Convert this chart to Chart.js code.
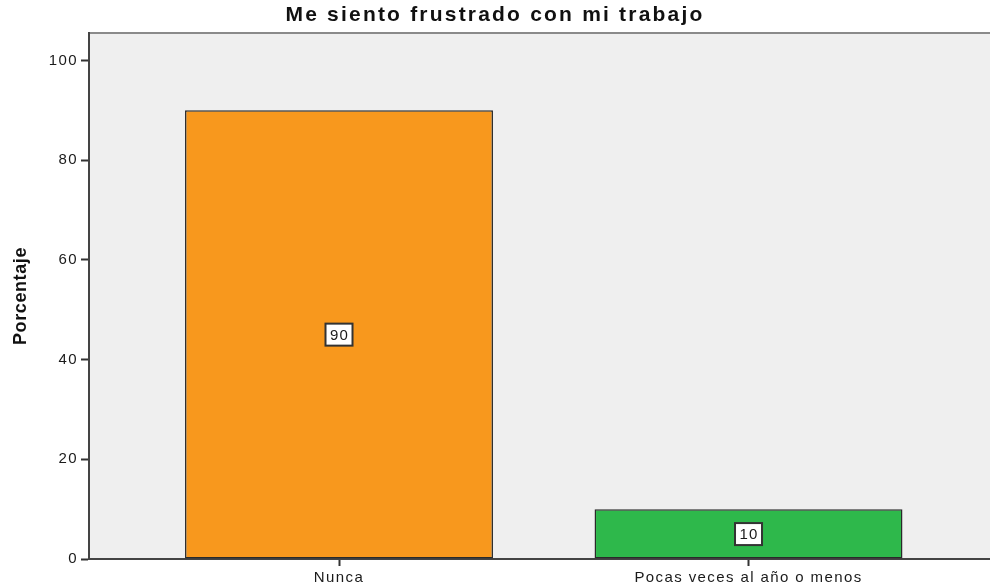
<!DOCTYPE html>
<html><head><meta charset="utf-8">
<script src="https://cdn.jsdelivr.net/npm/chart.js@4"></script>
<style>html,body{margin:0;padding:0;background:#fff}#wrap{width:990px;height:588px}</style>
</head><body><div id="wrap"><canvas id="c" width="990" height="588"></canvas></div>
<script>
const chartTitle = 'Me siento frustrado con mi trabajo';
const yAxisTitle = 'Porcentaje';
const categories = ['Nunca', 'Pocas veces al año o menos'];
const percentages = [90, 10];
const barColors = ['#F8981D', '#2EB84B'];
const yTickValues = [0, 20, 40, 60, 80, 100];

const FONT = "'Liberation Sans', Arial, sans-serif";

const spacingPlugin = {
  id: 'spacing',
  beforeUpdate(c) { c.ctx.letterSpacing = '1.4px'; },
  beforeLayout(c) { c.ctx.letterSpacing = '1.4px'; },
  beforeDraw(c) {
    c.ctx.letterSpacing = '1.4px';
    const t = c.titleBlock;
    if (t && !t._wrapped) {
      const orig = t.draw.bind(t);
      t.draw = function () { const ctx = c.ctx; ctx.save(); ctx.letterSpacing = '2.2px'; orig(); ctx.restore(); };
      t._wrapped = true;
    }
    const ys = c.scales.y;
    if (ys && !ys._wrapped) {
      const origT = ys.drawTitle.bind(ys);
      ys.drawTitle = function (a) { const ctx = c.ctx; ctx.save(); ctx.letterSpacing = '0.6px'; origT(a); ctx.restore(); };
      ys._wrapped = true;
    }
  }
};

const bgPlugin = {
  id: 'bg',
  beforeDraw(c) {
    const a = c.chartArea, ctx = c.ctx;
    ctx.save();
    ctx.fillStyle = '#EFEFEF';
    ctx.fillRect(a.left, a.top, a.right - a.left, a.bottom - a.top);
    ctx.strokeStyle = '#8a8a8a';
    ctx.lineWidth = 2;
    ctx.beginPath();
    ctx.moveTo(a.left, a.top);
    ctx.lineTo(a.right, a.top);
    ctx.stroke();
    ctx.restore();
  }
};

const labelPlugin = {
  id: 'valueBoxes',
  afterDatasetsDraw(c) {
    const ctx = c.ctx, meta = c.getDatasetMeta(0), ys = c.scales.y;
    ctx.save();
    ctx.letterSpacing = '1.2px';
    ctx.font = '15px ' + FONT;
    ctx.textAlign = 'center';
    ctx.textBaseline = 'middle';
    meta.data.forEach((bar, i) => {
      const v = percentages[i];
      const txt = String(v);
      const y = ys.getPixelForValue(v / 2);
      const w = 27;
      const h = 22;
      const x = bar.x;
      ctx.fillStyle = '#ffffff';
      ctx.fillRect(x - w / 2, y - h / 2, w, h);
      ctx.strokeStyle = '#333333';
      ctx.lineWidth = 2;
      ctx.strokeRect(x - w / 2, y - h / 2, w, h);
      ctx.fillStyle = '#1a1a1a';
      ctx.fillText(txt, x + 0.6, y + 1);
    });
    ctx.restore();
  }
};

new Chart(document.getElementById('c'), {
  type: 'bar',
  data: {
    datasets: [{
      data: categories.map((_, i) => ({ x: i, y: percentages[i] })),
      backgroundColor: barColors,
      borderColor: '#2a2a2a',
      borderWidth: 1.5,
      borderSkipped: false,
      categoryPercentage: 0.752,
      barPercentage: 1
    }]
  },
  options: {
    responsive: false,
    animation: false,
    devicePixelRatio: 1,
    layout: { padding: 0 },
    plugins: {
      legend: { display: false },
      tooltip: { enabled: false },
      title: {
        display: true,
        text: chartTitle,
        color: '#111',
        font: { family: FONT, size: 21, weight: 'bold', lineHeight: 1.2 },
        padding: { top: 3, bottom: 4.8 }
      }
    },
    scales: {
      x: {
        type: 'linear',
        min: -0.6105,
        max: 1.5897,
        offset: false,
        afterBuildTicks(s) { s.ticks = categories.map((_, i) => ({ value: i })); },
        afterFit(s) { s.height = 29; },
        ticks: {
          autoSkip: false,
          maxRotation: 0,
          padding: 3,
          color: '#1a1a1a',
          font: { family: FONT, size: 15 },
          callback: (v) => categories[v]
        },
        grid: { offset: false, drawOnChartArea: false, drawTicks: true, tickLength: 7, tickColor: '#333', tickWidth: 2 },
        border: { display: true, color: '#444', width: 2 }
      },
      y: {
        min: 0,
        max: 105.5,
        afterBuildTicks(s) { s.ticks = yTickValues.map(v => ({ value: v })); },
        afterFit(s) { s.width = 89; },
        ticks: {
          padding: 3,
          color: '#1a1a1a',
          font: { family: FONT, size: 15 }
        },
        grid: { drawOnChartArea: false, drawTicks: true, tickLength: 8, tickColor: '#333', tickWidth: 2 },
        border: { display: true, color: '#444', width: 2 },
        title: {
          display: true,
          text: yAxisTitle,
          color: '#111',
          font: { family: FONT, size: 18, weight: 'bold', lineHeight: 1.2 },
          padding: { top: 10, bottom: 0 }
        }
      }
    }
  },
  plugins: [spacingPlugin, bgPlugin, labelPlugin]
});
</script>
</body></html>
